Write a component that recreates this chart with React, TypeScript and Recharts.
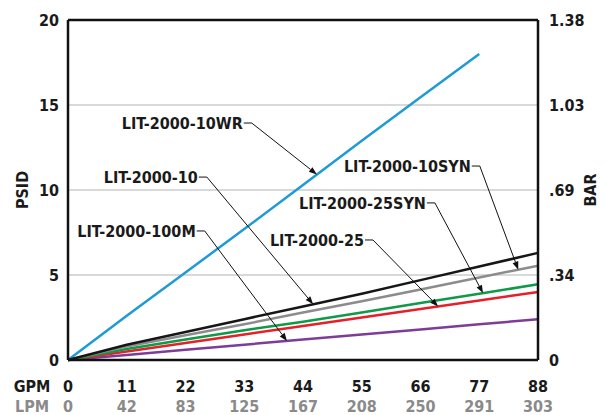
import { LineChart, Line, XAxis, YAxis, CartesianGrid, ReferenceLine } from "recharts";

const gpmTicks = [0, 11, 22, 33, 44, 55, 66, 77, 88];
const lpmLabels = ["0", "42", "83", "125", "167", "208", "250", "291", "303"];
const psiTicks = [0, 5, 10, 15, 20];
const barLabels = ["0", ".34", ".69", "1.03", "1.38"];

const lit10WR = [0, 2.6, 5.15, 7.7, 10.3, 12.9, 15.45, 18.0, null];
const lit10 = [0, 0.9, 1.65, 2.4, 3.15, 3.9, 4.7, 5.5, 6.3];
const lit10SYN = [0, 0.8, 1.45, 2.1, 2.8, 3.45, 4.15, 4.85, 5.55];
const lit25SYN = [0, 0.65, 1.2, 1.75, 2.25, 2.8, 3.35, 3.9, 4.45];
const lit25 = [0, 0.5, 1.0, 1.5, 2.0, 2.5, 3.0, 3.5, 4.0];
const lit100M = [0, 0.3, 0.6, 0.9, 1.2, 1.5, 1.8, 2.1, 2.4];

const data = gpmTicks.map((g, i) => ({
  gpm: g,
  wr: lit10WR[i],
  l10: lit10[i],
  syn10: lit10SYN[i],
  syn25: lit25SYN[i],
  l25: lit25[i],
  m100: lit100M[i],
}));

const FONT = "'DejaVu Sans Condensed', 'Liberation Sans Narrow', Roboto, sans-serif";
const FS = 16;

// value of a series at any flow, read along its own segments
function valueAt(series: (number | null)[], gpm: number) {
  for (let i = 1; i < gpmTicks.length; i++) {
    if (gpm <= gpmTicks[i]) {
      const a = series[i - 1] as number;
      const b = series[i] as number;
      const t = (gpm - gpmTicks[i - 1]) / (gpmTicks[i] - gpmTicks[i - 1]);
      return a + (b - a) * t;
    }
  }
  return series[series.length - 1] as number;
}

// callouts: elbow of the leader (gpm, psi) and where the arrow hits the curve
const callouts = [
  { text: "LIT-2000-10WR", series: lit10WR, elbow: [34.4, 13.94], tip: 46.6 },
  { text: "LIT-2000-10", series: lit10, elbow: [26.0, 10.76], tip: 45.9 },
  { text: "LIT-2000-100M", series: lit100M, elbow: [25.6, 7.59], tip: 41.0 },
  { text: "LIT-2000-25", series: lit25, elbow: [57.1, 7.06], tip: 69.3 },
  { text: "LIT-2000-25SYN", series: lit25SYN, elbow: [68.7, 9.24], tip: 77.7 },
  { text: "LIT-2000-10SYN", series: lit10SYN, elbow: [77.1, 11.41], tip: 84.3 },
];

function Leader(props: any) {
  const { x1, y1, x2, y2, text } = props;
  const dx = x2 - x1;
  const dy = y2 - y1;
  const len = Math.sqrt(dx * dx + dy * dy) || 1;
  const ux = dx / len;
  const uy = dy / len;
  const bx = x2 - ux * 8;
  const by = y2 - uy * 8;
  const px = -uy * 3;
  const py = ux * 3;
  return (
    <g>
      <path d={`M${x1 - 8},${y1} L${x1},${y1} L${bx},${by}`} fill="none" stroke="#111" strokeWidth={1} />
      <path d={`M${x2},${y2} L${bx + px},${by + py} L${bx - px},${by - py} Z`} fill="#111" />
      <text x={x1 - 9} y={y1 + 6} textAnchor="end" fontFamily={FONT} fontWeight="bold" fontSize={FS} fill="#1a1a1a">
        {text}
      </text>
    </g>
  );
}

function GpmTick(props: any) {
  const { x, y, payload } = props;
  const i = gpmTicks.indexOf(payload.value);
  return (
    <g fontFamily={FONT} fontWeight="bold" fontSize={FS}>
      <text x={x} y={y + 30} textAnchor="middle" fill="#1a1a1a">{payload.value}</text>
      <text x={x} y={y + 50} textAnchor="middle" fill="#8a8a8a">{lpmLabels[i]}</text>
      {i === 0 && (
        <>
          <text x={x - 36} y={y + 30} textAnchor="middle" fill="#1a1a1a">GPM</text>
          <text x={x - 36} y={y + 50} textAnchor="middle" fill="#8a8a8a">LPM</text>
        </>
      )}
    </g>
  );
}

function PsiTick(props: any) {
  const { x, y, payload } = props;
  return (
    <text x={x - 7} y={y + 6} textAnchor="end" fontFamily={FONT} fontWeight="bold" fontSize={FS} fill="#1a1a1a">
      {payload.value}
    </text>
  );
}

function BarTick(props: any) {
  const { x, y, payload } = props;
  const i = Math.round(Number(payload.value) / 5);
  return (
    <text x={x + 9} y={y + 6} textAnchor="start" fontFamily={FONT} fontWeight="bold" fontSize={FS} fill="#1a1a1a">
      {barLabels[i]}
    </text>
  );
}

function AxisTitle(props: any) {
  const { viewBox, value, cx } = props;
  const cy = viewBox.y + viewBox.height / 2;
  return (
    <text
      x={cx}
      y={cy}
      transform={`rotate(-90 ${cx} ${cy})`}
      textAnchor="middle"
      dominantBaseline="central"
      fontFamily={FONT}
      fontWeight="bold"
      fontSize={FS}
      fill="#1a1a1a"
    >
      {value}
    </text>
  );
}

export default function App() {
  return (
    <div style={{ position: "absolute", left: 0, top: 0, width: 605, height: 415, background: "#fff" }}>
      <LineChart width={605} height={415} data={data} margin={{ top: 20, right: 0, left: 0, bottom: 0 }}>
        <CartesianGrid yAxisId="left" vertical={false} stroke="#d9d9d9" strokeWidth={2} />
        <XAxis
          dataKey="gpm"
          type="number"
          domain={[0, 88]}
          ticks={gpmTicks}
          height={55}
          tickSize={0}
          tickLine={false}
          stroke="#111"
          strokeWidth={2.5}
          tick={<GpmTick />}
          interval={0}
        />
        <YAxis
          yAxisId="left"
          domain={[0, 20]}
          ticks={psiTicks}
          width={68}
          tickSize={0}
          tickLine={false}
          stroke="#111"
          strokeWidth={2.5}
          tick={<PsiTick />}
          interval={0}
          label={<AxisTitle value="PSID" cx={22} />}
        />
        <YAxis
          yAxisId="right"
          orientation="right"
          domain={[0, 20]}
          ticks={psiTicks}
          width={67}
          tickSize={0}
          tickLine={false}
          stroke="#111"
          strokeWidth={2.5}
          tick={<BarTick />}
          interval={0}
          label={<AxisTitle value="BAR" cx={590} />}
        />
        <ReferenceLine yAxisId="left" y={20} stroke="#111" strokeWidth={2.5} />
        <Line yAxisId="left" type="linear" dataKey="wr" stroke="#1e9bd7" strokeWidth={2.5} dot={false} isAnimationActive={false} />
        <Line yAxisId="right" type="linear" dataKey="m100" stroke="#7d3c98" strokeWidth={2.5} dot={false} isAnimationActive={false} />
        <Line yAxisId="left" type="linear" dataKey="l25" stroke="#e5202a" strokeWidth={2.5} dot={false} isAnimationActive={false} />
        <Line yAxisId="left" type="linear" dataKey="syn25" stroke="#0e9a48" strokeWidth={2.5} dot={false} isAnimationActive={false} />
        <Line yAxisId="left" type="linear" dataKey="syn10" stroke="#8c8c8c" strokeWidth={2.5} dot={false} isAnimationActive={false} />
        <Line yAxisId="left" type="linear" dataKey="l10" stroke="#161616" strokeWidth={2.5} dot={false} isAnimationActive={false} />
        {callouts.map((c) => (
          <ReferenceLine
            key={c.text}
            yAxisId="left"
            ifOverflow="visible"
            segment={[
              { x: c.elbow[0], y: c.elbow[1] },
              { x: c.tip, y: valueAt(c.series, c.tip) },
            ]}
            shape={(p: any) => <Leader {...p} text={c.text} />}
          />
        ))}
      </LineChart>
    </div>
  );
}
